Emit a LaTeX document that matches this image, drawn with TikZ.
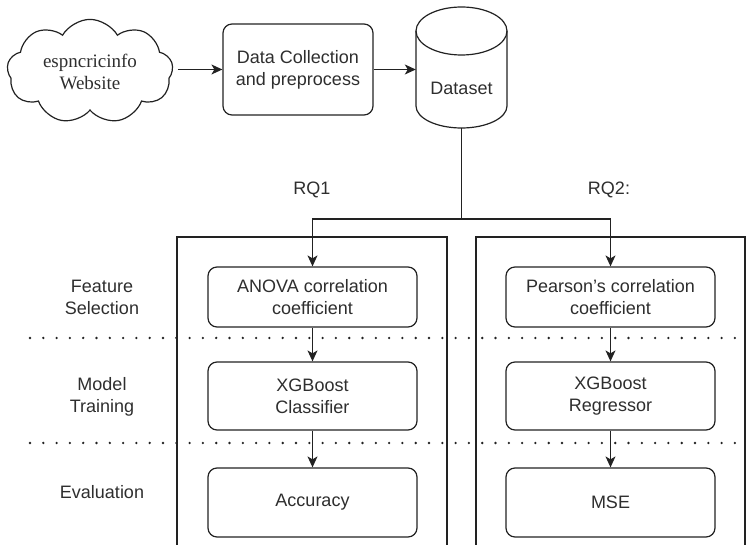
\documentclass[tikz,border=0pt]{standalone}
\usepackage{fontspec}
\setmainfont{Liberation Sans}
\newfontfamily\cloudfont{Liberation Serif}
\usetikzlibrary{shapes.symbols,arrows.meta}
\definecolor{ink}{HTML}{222222}
\definecolor{txt}{HTML}{2E2E2E}
\begin{document}
\begin{tikzpicture}[x=1pt,y=-1pt,
  every node/.style={font=\fontsize{18}{22}\selectfont, text=txt},
  line/.style={line width=1.2pt, draw=ink},
  arr/.style={line, -{Stealth[length=11pt,width=10pt,inset=3pt]}},
  rbox/.style={line, rounded corners=9pt, align=center, inner sep=0pt, minimum width=209pt},
  lbl/.style={align=center},
  dotline/.style={line width=2.6pt, draw=ink, dash pattern=on 0pt off 13.3pt, line cap=round}
]
\path[use as bounding box] (0,0) rectangle (748,545);

% top row
\node[cloud, cloud puffs=9, cloud puff arc=120, aspect=1.6, line, minimum width=166pt, minimum height=103pt,
      align=center, inner sep=0pt, font=\cloudfont\fontsize{19}{22}\selectfont] (web) at (90,71.5) {espncricinfo\\Website};
\node[line, rounded corners=9pt, align=center, inner sep=0pt, minimum width=150pt, minimum height=91pt] (dc) at (298,69.5) {Data Collection\\and preprocess};
\node[inner sep=0pt, minimum width=91pt, minimum height=121pt] (ds) at (461.5,67.5) {};
\draw[line] (416,31) -- (416,106) arc[start angle=180, end angle=360, x radius=45.5pt, y radius=22pt] -- (507,31);
\draw[line] (461.5,31) ellipse[x radius=45.5pt, y radius=24pt];
\node (dstext) at (461.5,88) {Dataset};

\draw[arr] ([xshift=5pt]web.east |- dc.west) -- (dc.west);
\draw[arr] (dc.east) -- (dc.east -| ds.west);

% split
\coordinate (split) at (461.5,219);
\node (rq1) at (312,190) {RQ1};
\node (rq2) at (609,190) {RQ2:};

% panels
\draw[line] (177,546) -- (177,237) -- (447,237) -- (447,546);
\draw[line] (476,546) -- (476,237) -- (745,237) -- (745,546);

% dotted separators
\draw[dotline] (30,338) -- (742,338);
\draw[dotline] (30,443) -- (742,443);

% row labels
\node[lbl] (fs) at (102,297) {Feature\\Selection};
\node[lbl] (mt) at (102,397) {Model\\Training};
\node[lbl] (ev) at (102,492) {Evaluation};

% boxes
\node[rbox, minimum height=60pt, fill=white] (anova) at (312.5,297) {ANOVA correlation\\coefficient};
\node[rbox, minimum height=60pt, fill=white] (pear) at (610.5,297) {Pearson’s correlation\\coefficient};
\node[rbox, minimum height=68pt, fill=white] (xgbc) at (312.5,396) {XGBoost\\Classifier};
\node[rbox, minimum height=68pt, fill=white] (xgbr) at (610.5,396) {XGBoost\\Regressor};
\node[rbox, minimum height=69pt, fill=white] (acc) at (312.5,502.5) {Accuracy};
\node[rbox, minimum height=69pt, fill=white] (mse) at (610.5,502.5) {MSE};

% connectors
\draw[line] (ds.south) -- (split);
\draw[arr] (split) -| (anova.north);
\draw[arr] (split) -| (pear.north);
\draw[arr] (anova) -- (xgbc);
\draw[arr] (pear) -- (xgbr);
\draw[arr] (xgbc) -- (acc);
\draw[arr] (xgbr) -- (mse);
\end{tikzpicture}
\end{document}
